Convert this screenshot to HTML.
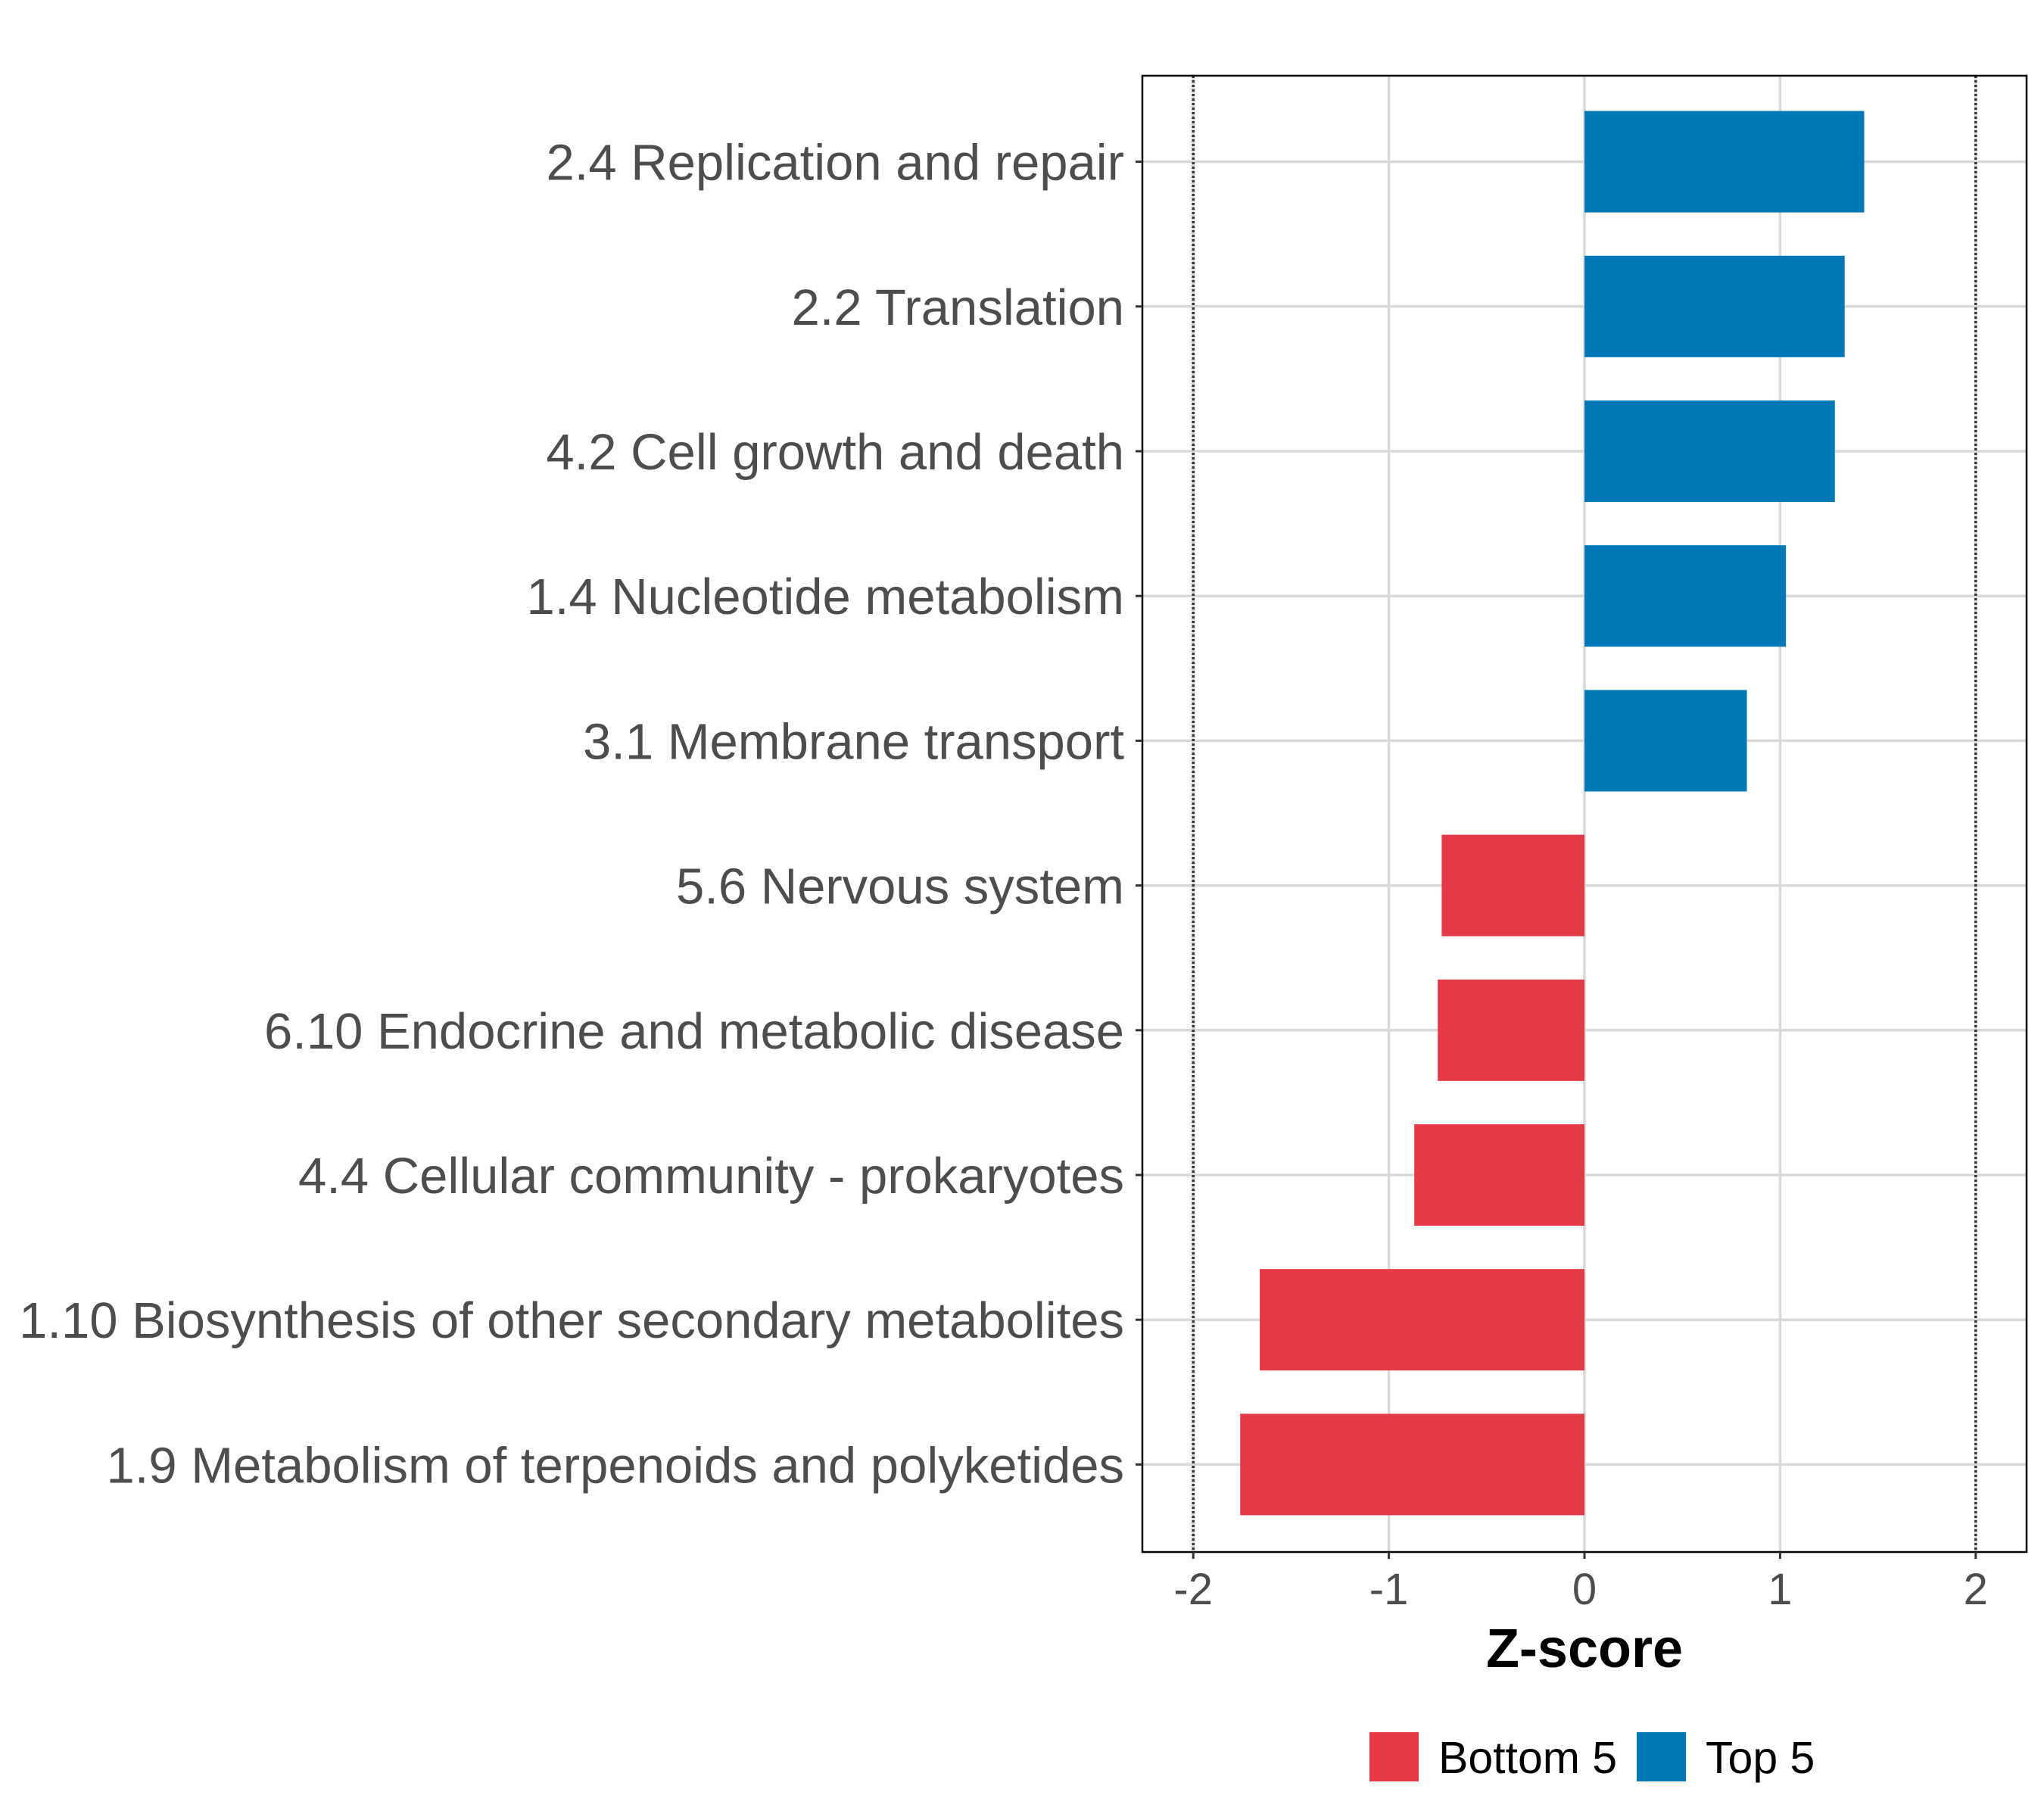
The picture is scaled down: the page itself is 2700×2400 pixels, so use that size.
<!DOCTYPE html>
<html><head><meta charset="utf-8"><style>
html,body{margin:0;padding:0;background:#fff;}
svg{display:block;font-family:"Liberation Sans",Arial,sans-serif;}
</style></head><body>
<svg id="chart" width="2700" height="2400" viewBox="0 0 2700 2400" xmlns="http://www.w3.org/2000/svg">
<rect width="2700" height="2400" fill="#fff"/>
<g id="grid"></g>
<g id="bars"></g>
<g id="axes"></g>
<text x="2093" y="2202" text-anchor="middle" font-size="72" font-weight="bold" fill="#000">Z-score</text>
<g>
<rect x="1809" y="2288" width="65" height="65" fill="#E63946"/>
<text x="1900" y="2342" font-size="59" fill="#000">Bottom 5</text>
<rect x="2162" y="2288" width="65" height="65" fill="#0077B6"/>
<text x="2253" y="2342" font-size="59" fill="#000">Top 5</text>
</g>
</svg>
<script>
const categories = ["2.4 Replication and repair","2.2 Translation","4.2 Cell growth and death","1.4 Nucleotide metabolism","3.1 Membrane transport","5.6 Nervous system","6.10 Endocrine and metabolic disease","4.4 Cellular community - prokaryotes","1.10 Biosynthesis of other secondary metabolites","1.9 Metabolism of terpenoids and polyketides"];
const values = [1.43,1.33,1.28,1.03,0.83,-0.73,-0.75,-0.87,-1.66,-1.76];
const groups = ["Top 5","Top 5","Top 5","Top 5","Top 5","Bottom 5","Bottom 5","Bottom 5","Bottom 5","Bottom 5"];
const xTicks = [-2,-1,0,1,2];
const xTickLabels = ["-2","-1","0","1","2"];
const refLines = [-2,2];

const NS="http://www.w3.org/2000/svg";
const L=1509,R=2677,T=100,B=2050;
const x0=2093, unit=258.4;
const xs=v=>x0+v*unit;
const ys=i=>213.6+i*191.2;
const halfH=67;
const colors={"Top 5":"#0077B6","Bottom 5":"#E63946"};
function mk(tag,attrs,parent){const e=document.createElementNS(NS,tag);for(const k in attrs)e.setAttribute(k,attrs[k]);parent.appendChild(e);return e;}
const grid=document.getElementById('grid'),bars=document.getElementById('bars'),axes=document.getElementById('axes');
xTicks.forEach((t,i)=>{
  const l=mk('line',{x1:xs(t),x2:xs(t),y1:T,y2:B,stroke:'#d9d9d9','stroke-width':3.5},grid);
  
  
});
categories.forEach((c,i)=>{
  const l=mk('line',{x1:L,x2:R,y1:ys(i),y2:ys(i),stroke:'#d9d9d9','stroke-width':3.5},grid);
  
  
});
refLines.forEach(v=>{
  const l=mk('line',{x1:xs(v),x2:xs(v),y1:T,y2:B,stroke:'#333','stroke-width':3.5,'stroke-dasharray':'3,3'},grid);
  
  
});
values.forEach((v,i)=>{
  const a=Math.min(xs(0),xs(v)),w=Math.abs(xs(v)-xs(0));
  const r=mk('rect',{x:a,y:ys(i)-halfH,width:w,height:2*halfH,fill:colors[groups[i]]},bars);
  
  
});
const frame=mk('rect',{x:L,y:T,width:R-L,height:B-T,fill:'none',stroke:'#000','stroke-width':2.5},axes);


categories.forEach((c,i)=>{
  const tk=mk('line',{x1:L-9,x2:L,y1:ys(i),y2:ys(i),stroke:'#333','stroke-width':3},axes);
  
  
  const tx=mk('text',{x:L-24,y:ys(i)+24,'text-anchor':'end','font-size':67,fill:'#4d4d4d'},axes);
  tx.textContent=c;
  
  
});
xTicks.forEach((t,i)=>{
  const tk=mk('line',{x1:xs(t),x2:xs(t),y1:B,y2:B+9,stroke:'#333','stroke-width':3},axes);
  
  
  const tx=mk('text',{x:xs(t),y:2119,'text-anchor':'middle','font-size':58,fill:'#4d4d4d'},axes);
  tx.textContent=xTickLabels[i];
  
  
});
</script>
</body></html>
